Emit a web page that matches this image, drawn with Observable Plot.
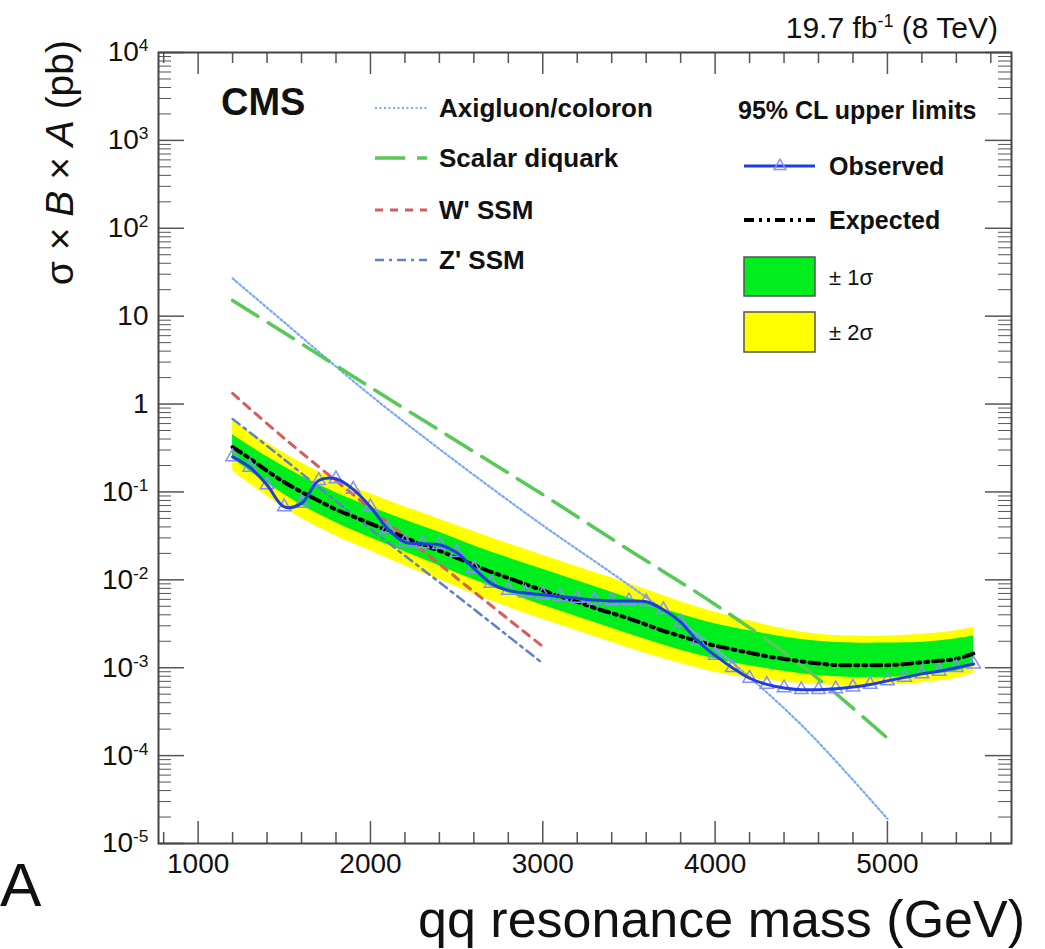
<!DOCTYPE html>
<html><head><meta charset="utf-8">
<script src="https://cdn.jsdelivr.net/npm/d3@7"></script>
<script src="https://cdn.jsdelivr.net/npm/@observablehq/plot@0.6"></script>
<style>body{margin:0;background:#fff;}</style>
</head><body><div id="chart"></div>
<script>
// ---- data (pb) ----
const massPoints = [1200,1300,1400,1500,1600,1700,1800,1900,2000,2100,2200,2300,2400,2500,2600,2700,2800,2900,3000,3100,3200,3300,3400,3500,3600,3700,3800,3900,4000,4100,4200,4300,4400,4500,4600,4700,4800,4900,5000,5100,5200,5300,5400,5500];
const observed = [0.251,0.191,0.120,0.0676,0.0741,0.135,0.141,0.107,0.0676,0.0380,0.0269,0.0257,0.0251,0.0204,0.0135,0.00912,0.00759,0.00708,0.00676,0.00646,0.00617,0.00589,0.00575,0.00575,0.00562,0.00457,0.00331,0.00200,0.00138,0.00100,0.000759,0.000646,0.000589,0.000562,0.000562,0.000575,0.000603,0.000646,0.000708,0.000776,0.000851,0.000912,0.00100,0.00110];
const expected = [0.324,0.240,0.174,0.129,0.100,0.0794,0.0631,0.0525,0.0437,0.0363,0.0302,0.0251,0.0214,0.0178,0.0148,0.0123,0.0105,0.00891,0.00759,0.00646,0.00562,0.00479,0.00417,0.00363,0.00309,0.00263,0.00229,0.00200,0.00178,0.00162,0.00148,0.00135,0.00126,0.00118,0.00112,0.00107,0.00107,0.00107,0.00107,0.00110,0.00115,0.00120,0.00126,0.00145];

const bandMass = [1200,1400,1600,1800,2000,2200,2400,2600,2800,3000,3200,3400,3600,3800,4000,4200,4400,4600,4800,5000,5200,5400,5500];
const oneSigmaUp = [0.447,0.251,0.151,0.0977,0.0676,0.0479,0.0347,0.0245,0.0178,0.0132,0.00977,0.00724,0.00537,0.00407,0.00316,0.00263,0.00224,0.00200,0.00191,0.00191,0.00195,0.00214,0.00229];
const oneSigmaDown = [0.240,0.126,0.0708,0.0447,0.0302,0.0209,0.0145,0.0100,0.00708,0.00513,0.00380,0.00282,0.00209,0.00158,0.00126,0.00105,0.000912,0.000813,0.000776,0.000776,0.000832,0.000912,0.00105];
const twoSigmaUp = [0.646,0.363,0.214,0.138,0.0955,0.0676,0.0490,0.0355,0.0257,0.0191,0.0141,0.0105,0.00776,0.00562,0.00427,0.00339,0.00275,0.00240,0.00229,0.00229,0.00240,0.00263,0.00288];
const twoSigmaDown = [0.174,0.0891,0.0501,0.0316,0.0214,0.0145,0.0100,0.00692,0.00490,0.00355,0.00263,0.00195,0.00145,0.00112,0.000891,0.000759,0.000692,0.000646,0.000617,0.000631,0.000676,0.000759,0.000871];

const modelMass = [1200,1500,2000,2500,3000,3500,4000,4500,5000];
const axigluon = [26.9,8.51,1.26,0.219,0.0417,0.00871,0.00166,0.000224,0.0000191];
const diquark = [15.1,6.46,1.55,0.380,0.0933,0.0219,0.00525,0.00107,0.000158];
const ssmMass = [1200,1500,2000,2500,3000];
const wprime = [1.32,0.407,0.0646,0.0105,0.00174];
const zprime = [0.676,0.234,0.0380,0.00661,0.00112];

const xTickLabels = [1000,2000,3000,4000,5000];
const yTickValues = [1e-5,1e-4,1e-3,1e-2,1e-1,1,10,1e2,1e3,1e4];
const yTickLabels = ["10^-5","10^-4","10^-3","10^-2","10^-1","1","10","10^2","10^3","10^4"];

// ---- tables ----
const obsRows = massPoints.map((m,i)=>({m, v: observed[i]}));
const expRows = massPoints.map((m,i)=>({m, v: expected[i]}));
const bandRows = bandMass.map((m,i)=>({m, g1: oneSigmaDown[i], g2: oneSigmaUp[i], y1: twoSigmaDown[i], y2: twoSigmaUp[i]}));
const axiRows = modelMass.map((m,i)=>({m, v: axigluon[i]}));
const dqRows = modelMass.map((m,i)=>({m, v: diquark[i]}));
const wRows = ssmMass.map((m,i)=>({m, v: wprime[i]}));
const zRows = ssmMass.map((m,i)=>({m, v: zprime[i]}));

// tick positions
const xMinor = d3.range(800, 5701, 200).filter(v => v % 1000 !== 0);
const yMinor = [];
for (let k = -5; k < 4; k++) for (let j = 2; j <= 9; j++) yMinor.push(j * Math.pow(10, k));

const W = 1045, H = 949, mL = 158, mR = 34, mT = 52, mB = 106;
const fW = W - mL - mR, fH = H - mT - mB;
const tickColor = "#555";

const styles = {
  axi: {stroke: "#7aa9f7", w: 2.2, dash: "2,2.5"},
  dq: {stroke: "#57c957", w: 3.5, dash: "30,12"},
  w: {stroke: "#d95b5b", w: 3, dash: "8,7"},
  z: {stroke: "#5f80cc", w: 2.5, dash: "9,5,3,5"}
};

const svg = Plot.plot({
  width: W, height: H,
  marginLeft: mL, marginRight: mR, marginTop: mT, marginBottom: mB,
  x: {domain: [770, 5720], axis: null},
  y: {type: "log", domain: [1e-5, 1e4], axis: null},
  style: {fontFamily: "'Liberation Sans', Arial, Helvetica, sans-serif", fontSize: "28px", background: "#fff", color: "#111"},
  marks: [
    Plot.areaY(bandRows, {x: "m", y1: "y1", y2: "y2", fill: "#ffff00", curve: "catmull-rom"}),
    Plot.areaY(bandRows, {x: "m", y1: "g1", y2: "g2", fill: "#00ee1e", curve: "catmull-rom"}),
    Plot.line(axiRows, {x: "m", y: "v", stroke: styles.axi.stroke, strokeWidth: styles.axi.w, strokeDasharray: styles.axi.dash, curve: "catmull-rom"}),
    Plot.line(dqRows, {x: "m", y: "v", stroke: styles.dq.stroke, strokeWidth: styles.dq.w, strokeDasharray: styles.dq.dash, curve: "catmull-rom"}),
    Plot.line(wRows, {x: "m", y: "v", stroke: styles.w.stroke, strokeWidth: styles.w.w, strokeDasharray: styles.w.dash, curve: "catmull-rom"}),
    Plot.line(zRows, {x: "m", y: "v", stroke: styles.z.stroke, strokeWidth: styles.z.w, strokeDasharray: styles.z.dash, curve: "catmull-rom"}),
    Plot.line(expRows, {x: "m", y: "v", stroke: "#000", strokeWidth: 4, strokeDasharray: "10,5,3,5,3,5", curve: "catmull-rom"}),
    Plot.dot(obsRows, {x: "m", y: "v", symbol: "triangle", r: 5, stroke: "#8a8cff", fill: "none", strokeWidth: 1.5}),
    Plot.line(obsRows, {x: "m", y: "v", stroke: "#1f3ee0", strokeWidth: 3, curve: "catmull-rom"}),
    // ticks (inward, on all four sides)
    Plot.ruleX(xTickLabels, {x: d => d, insetTop: fH - 22, stroke: tickColor, strokeWidth: 1.5}),
    Plot.ruleX(xTickLabels, {x: d => d, insetBottom: fH - 22, stroke: tickColor, strokeWidth: 1.5}),
    Plot.ruleX(xMinor, {x: d => d, insetTop: fH - 11, stroke: tickColor, strokeWidth: 1.5}),
    Plot.ruleX(xMinor, {x: d => d, insetBottom: fH - 11, stroke: tickColor, strokeWidth: 1.5}),
    Plot.ruleY(yTickValues, {y: d => d, insetRight: fW - 26, stroke: tickColor, strokeWidth: 1.5}),
    Plot.ruleY(yTickValues, {y: d => d, insetLeft: fW - 26, stroke: tickColor, strokeWidth: 1.5}),
    Plot.ruleY(yMinor, {y: d => d, insetRight: fW - 13, stroke: tickColor, strokeWidth: 1}),
    Plot.ruleY(yMinor, {y: d => d, insetLeft: fW - 13, stroke: tickColor, strokeWidth: 1}),
    Plot.frame({stroke: "#444", strokeWidth: 2}),
    // tick labels
    Plot.text(xTickLabels, {x: d => d, frameAnchor: "bottom", dy: 10, lineAnchor: "top", text: d => String(d), fontSize: 28}),
    Plot.text(yTickValues, {y: d => d, frameAnchor: "left", dx: -10, textAnchor: "end", text: (d, i) => yTickLabels[i], fontSize: 28})
  ]
});
document.getElementById("chart").append(svg);

const s = d3.select(svg);
// superscripts in tick labels
s.selectAll("text").each(function() {
  const t = this.textContent;
  if (t.includes("^")) {
    const [base, exp] = t.split("^");
    const el = d3.select(this);
    el.text(null);
    el.append("tspan").text(base);
    el.append("tspan").attr("dy", -10).attr("font-size", "0.62em").text(exp);
  }
});

const font = "'Liberation Sans', Arial, Helvetica, sans-serif";
const g = s.append("g").attr("font-family", font).attr("fill", "#111").attr("text-anchor", "start");

// y title
const yt = g.append("text").attr("transform", "translate(73,40) rotate(-90)")
  .attr("text-anchor", "end").attr("font-size", 39);
yt.append("tspan").text("σ × ");
yt.append("tspan").attr("font-style", "italic").text("B");
yt.append("tspan").text(" × ");
yt.append("tspan").attr("font-style", "italic").text("A");
yt.append("tspan").text(" (pb)");

// x title
g.append("text").attr("x", 1025).attr("y", 937).attr("text-anchor", "end")
  .attr("font-size", 52).text("qq resonance mass (GeV)");

// luminosity label
const lt = g.append("text").attr("x", 998).attr("y", 38).attr("text-anchor", "end").attr("font-size", 30);
lt.append("tspan").text("19.7 fb");
lt.append("tspan").attr("dy", -11).attr("font-size", 18).text("-1");
lt.append("tspan").attr("dy", 11).text(" (8 TeV)");

// panel letter
g.append("text").attr("x", 0).attr("y", 906).attr("font-size", 62).text("A");

// CMS
g.append("text").attr("x", 221).attr("y", 115).attr("font-size", 38).attr("font-weight", "bold").text("CMS");

// left legend
const leftLeg = [
  {label: "Axigluon/coloron", s: styles.axi, y: 108},
  {label: "Scalar diquark", s: styles.dq, y: 158},
  {label: "W' SSM", s: styles.w, y: 210},
  {label: "Z' SSM", s: styles.z, y: 260}
];
leftLeg.forEach(d => {
  g.append("line").attr("x1", 375).attr("x2", 427).attr("y1", d.y).attr("y2", d.y)
    .attr("stroke", d.s.stroke).attr("stroke-width", d.s.w).attr("stroke-dasharray", d.s.dash);
  g.append("text").attr("x", 439).attr("y", d.y + 9).attr("font-size", 26).attr("font-weight", "bold").text(d.label);
});

// right legend
g.append("text").attr("x", 738).attr("y", 119).attr("font-size", 25).attr("font-weight", "bold").text("95% CL upper limits");
g.append("line").attr("x1", 744).attr("x2", 815).attr("y1", 166).attr("y2", 166).attr("stroke", "#1f3ee0").attr("stroke-width", 3);
g.append("path").attr("d", d3.symbol(d3.symbolTriangle, 60)()).attr("transform", "translate(780,166)")
  .attr("fill", "none").attr("stroke", "#8a8cff").attr("stroke-width", 1.5);
g.append("text").attr("x", 829).attr("y", 175).attr("font-size", 25).attr("font-weight", "bold").text("Observed");
g.append("line").attr("x1", 744).attr("x2", 815).attr("y1", 220).attr("y2", 220).attr("stroke", "#000").attr("stroke-width", 4).attr("stroke-dasharray", "10,5,3,5,3,5");
g.append("text").attr("x", 829).attr("y", 229).attr("font-size", 25).attr("font-weight", "bold").text("Expected");
g.append("rect").attr("x", 744).attr("y", 257).attr("width", 71).attr("height", 39).attr("fill", "#00ee1e").attr("stroke", "#555").attr("stroke-width", 1.5);
g.append("text").attr("x", 829).attr("y", 285).attr("font-size", 22).text("± 1σ");
g.append("rect").attr("x", 744).attr("y", 312).attr("width", 71).attr("height", 40).attr("fill", "#ffff00").attr("stroke", "#555").attr("stroke-width", 1.5);
g.append("text").attr("x", 829).attr("y", 340).attr("font-size", 22).text("± 2σ");
</script>
</body></html>
